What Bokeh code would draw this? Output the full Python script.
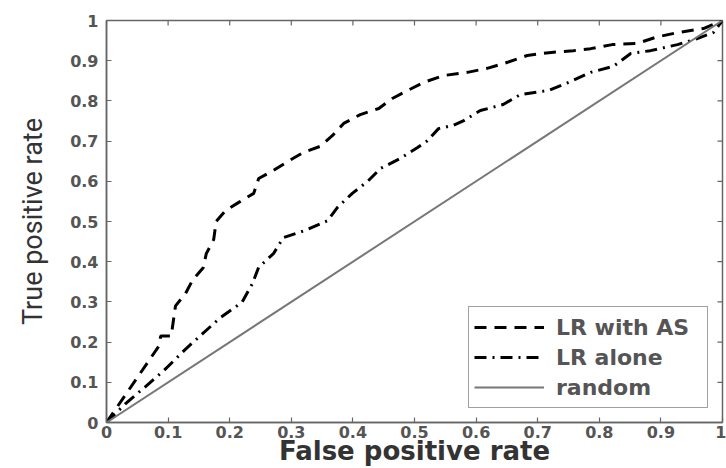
import math
from bokeh.plotting import figure
from bokeh.models import FixedTicker, Legend, LegendItem, Range1d
from bokeh.embed import file_html
from bokeh.resources import INLINE

# ---- data ----
fpr_as = [0, 0.085, 0.088, 0.105, 0.112, 0.128, 0.14, 0.157, 0.162, 0.174, 0.178,
          0.193, 0.214, 0.239, 0.247, 0.271, 0.295, 0.32, 0.347, 0.367, 0.385,
          0.412, 0.442, 0.464, 0.489, 0.515, 0.547, 0.586, 0.618, 0.651, 0.683,
          0.718, 0.758, 0.786, 0.821, 0.862, 0.891, 0.927, 0.969, 1.0]
tpr_as = [0, 0.19, 0.215, 0.215, 0.29, 0.32, 0.355, 0.385, 0.42, 0.455, 0.5,
          0.527, 0.547, 0.57, 0.607, 0.627, 0.65, 0.672, 0.687, 0.714, 0.744,
          0.766, 0.781, 0.806, 0.826, 0.846, 0.863, 0.871, 0.881, 0.896, 0.913,
          0.92, 0.925, 0.93, 0.94, 0.943, 0.958, 0.97, 0.98, 1.0]

fpr_lr = [0, 0.031, 0.06, 0.093, 0.128, 0.156, 0.185, 0.22, 0.237, 0.247, 0.271,
          0.287, 0.323, 0.359, 0.375, 0.399, 0.424, 0.445, 0.477, 0.505, 0.521,
          0.539, 0.563, 0.58, 0.607, 0.644, 0.672, 0.718, 0.753, 0.786, 0.823,
          0.851, 0.883, 0.927, 0.959, 0.985, 1.0]
tpr_lr = [0, 0.047, 0.085, 0.129, 0.182, 0.221, 0.261, 0.299, 0.346, 0.386, 0.42,
          0.46, 0.478, 0.502, 0.535, 0.57, 0.6, 0.632, 0.657, 0.684, 0.701,
          0.731, 0.739, 0.751, 0.776, 0.791, 0.816, 0.826, 0.848, 0.871, 0.886,
          0.918, 0.925, 0.94, 0.955, 0.97, 1.0]

fpr_rand = [0, 1]
tpr_rand = [0, 1]

tick_values = [0, 0.1, 0.2, 0.3, 0.4, 0.5, 0.6, 0.7, 0.8, 0.9, 1]
tick_labels = ["0", "0.1", "0.2", "0.3", "0.4", "0.5", "0.6", "0.7", "0.8", "0.9", "1"]
series_names = ["LR with AS", "LR alone", "random"]
x_title = "False positive rate"
y_title = "True positive rate"

# ---- figure ----
p = figure(width=726, height=468, output_backend="svg",
           toolbar_location=None, x_range=Range1d(0, 1), y_range=Range1d(0, 1),
           min_border_left=106, min_border_top=20, min_border_right=4,
           min_border_bottom=46, background_fill_color="white",
           border_fill_color="white")
axis_color = "#666666"
p.outline_line_color = axis_color
p.outline_line_width = 1.5
p.xgrid.visible = False
p.ygrid.visible = False

overrides = dict(zip(tick_values, tick_labels))

for ax in (p.xaxis[0], p.yaxis[0]):
    ax.ticker = FixedTicker(ticks=tick_values)
    ax.axis_line_color = axis_color
    ax.axis_line_width = 1.5
    ax.major_tick_line_color = axis_color
    ax.major_tick_line_width = 1.2
    ax.major_tick_in = 5
    ax.major_tick_out = 0
    ax.minor_tick_line_color = None
    ax.major_label_overrides = overrides
    ax.major_label_text_font = "DejaVu Sans"
    ax.major_label_text_font_style = "bold"
    ax.major_label_text_font_size = "16px"
    ax.major_label_text_color = "#555555"

xa = p.xaxis[0]
ya = p.yaxis[0]
xa.major_label_standoff = 3
ya.major_label_standoff = 8

xa.axis_label = x_title
xa.axis_label_text_font = "DejaVu Sans"
xa.axis_label_text_font_style = "bold"
xa.axis_label_text_font_size = "26px"
xa.axis_label_text_color = "#333333"
xa.axis_label_standoff = -5

ya.axis_label = y_title
ya.axis_label_text_font = "Roboto"
ya.axis_label_text_font_style = "normal"
ya.axis_label_text_font_size = "27px"
ya.axis_label_text_color = "#333333"
ya.axis_label_standoff = 18

# tick marks on the top and right sides of the box (MATLAB style)
n = len(tick_values)
p.ray(x=tick_values, y=[1] * n, length=5, length_units="screen",
      angle=-math.pi / 2, line_color=axis_color, line_width=1.2)
p.ray(x=[1] * n, y=tick_values, length=5, length_units="screen",
      angle=math.pi, line_color=axis_color, line_width=1.2)

# ---- lines ----
r_as = p.line(fpr_as, tpr_as, line_color="black", line_width=3, line_dash="12 8")
r_lr = p.line(fpr_lr, tpr_lr, line_color="black", line_width=3, line_dash="12 6 2 6")
r_rd = p.line(fpr_rand, tpr_rand, line_color="#777777", line_width=2)

legend = Legend(items=[LegendItem(label=series_names[0], renderers=[r_as]),
                       LegendItem(label=series_names[1], renderers=[r_lr]),
                       LegendItem(label=series_names[2], renderers=[r_rd])],
                location=(362, 14))
legend.glyph_width = 70
legend.glyph_height = 30
legend.label_height = 30
legend.label_width = 146
legend.label_standoff = 12
legend.spacing = 0
legend.padding = 5
legend.margin = 0
legend.border_line_color = "#444444"
legend.border_line_width = 1.5
legend.background_fill_color = "white"
legend.background_fill_alpha = 1
legend.label_text_font = "DejaVu Sans"
legend.label_text_font_style = "bold"
legend.label_text_font_size = "22px"
legend.label_text_color = "#555555"
p.add_layout(legend, "center")

open("out.html", "w").write(file_html(p, INLINE))
